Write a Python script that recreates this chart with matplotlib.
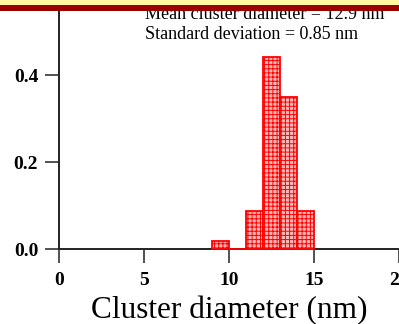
import matplotlib
matplotlib.use("Agg")
import matplotlib.pyplot as plt
from matplotlib.patches import Rectangle

bin_left = [9, 10, 11, 12, 13, 14]
frequency = [0.02, 0.0, 0.089, 0.443, 0.349, 0.089]
xticks = [0, 5, 10, 15, 20]
yticks = [0.0, 0.2, 0.4]
line1 = "Mean cluster diameter = 12.9 nm"
line2 = "Standard deviation = 0.85 nm"
xlabel = "Cluster diameter (nm)"

plt.rcParams['font.family'] = ['Liberation Serif', 'DejaVu Serif']
plt.rcParams['hatch.linewidth'] = 0.7

W, H = 399, 324
fig = plt.figure(figsize=(W/100, H/100), dpi=100)
ax = fig.add_axes([59/W, (H-249.3)/H, (W-59)/W, 249.3/H])

ax.bar(bin_left, frequency, width=1.0, align='edge', facecolor='#ffb8b8',
       edgecolor='#ff0000', hatch='++++', linewidth=1.3, zorder=3,
       clip_on=False)

ax.set_xlim(0, 20)
ax.set_ylim(0, 0.573)
ax.set_xticks(xticks)
ax.set_yticks(yticks)
ax.set_yticklabels([f"{v:.1f}" for v in yticks])
for s in ['top', 'right']:
    ax.spines[s].set_visible(False)
for s in ['left', 'bottom']:
    ax.spines[s].set_linewidth(1.4)
    ax.spines[s].set_color('#222222')
ax.tick_params(direction='out', length=10, width=1.1, color='#222222',
               labelsize=14)
ax.tick_params(axis='x', pad=6)
ax.tick_params(axis='y', pad=5)
for lab in ax.get_xticklabels() + ax.get_yticklabels():
    lab.set_fontweight('bold')
ax.set_xlabel(xlabel, fontsize=22.5, labelpad=5)

ax.text(5.06, 0.539, line1, fontsize=13, va='center', ha='left')
ax.text(5.06, 0.493, line2, fontsize=13, va='center', ha='left')

# top banner
fig.patches.append(Rectangle((0, 1 - 4.7/H), 1, 4.7/H, transform=fig.transFigure,
                             facecolor='#fff8a0', edgecolor='none', zorder=10))
fig.patches.append(Rectangle((0, 1 - 11/H), 1, 6.3/H, transform=fig.transFigure,
                             facecolor='#9b0000', edgecolor='none', zorder=10))

fig.savefig("out.png", dpi=100)
